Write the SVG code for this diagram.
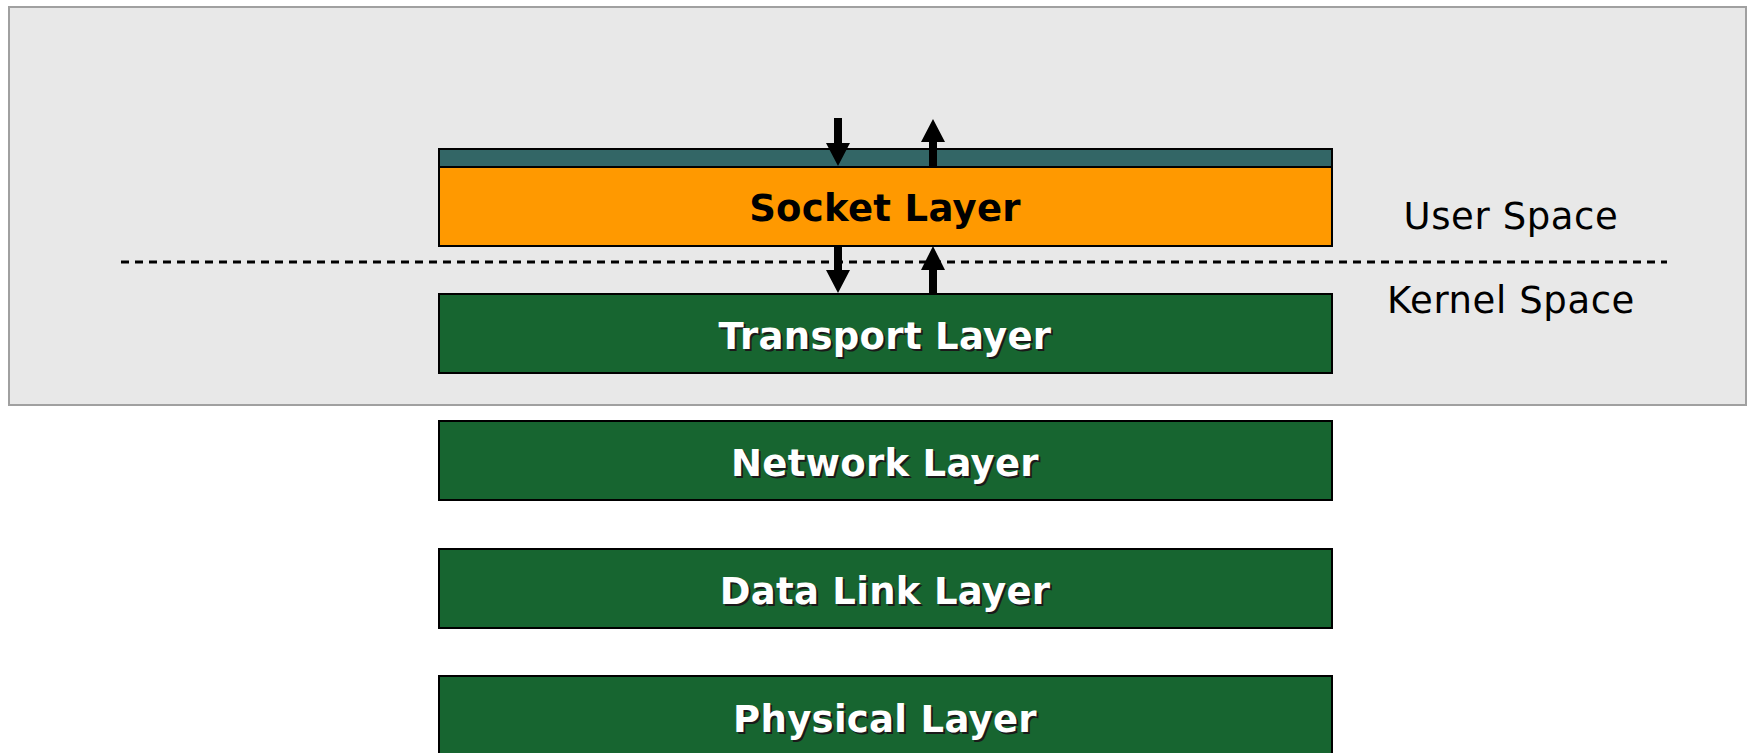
<svg xmlns="http://www.w3.org/2000/svg" width="1750" height="753" viewBox="0 0 1750 753">
<style>
.layer{fill:#176530;stroke:#000;stroke-width:2}
.lbl{font-family:"DejaVu Sans",Verdana,sans-serif;font-weight:bold;font-size:37px;letter-spacing:0.3px;text-anchor:middle}
.wt{fill:#fff}
.sh{fill:#1a1a1a}
.space{font-family:"DejaVu Sans",Verdana,sans-serif;font-size:37px;letter-spacing:0.6px;fill:#000;text-anchor:middle}
.arr{fill:#000}
</style>
<rect width="1750" height="753" fill="#fff"/>
<g id="space-box">
<rect x="9" y="7" width="1737" height="398" fill="#e8e8e8" stroke="#a0a0a0" stroke-width="2"/>
<line x1="121" y1="262" x2="1667" y2="262" stroke="#000" stroke-width="3" stroke-dasharray="8,6"/>
<text class="space" x="1511" y="229">User Space</text>
<text class="space" x="1511" y="313">Kernel Space</text>
</g>
<g id="socket">
<rect x="439" y="149" width="893" height="18" fill="#336666" stroke="#000" stroke-width="2"/>
<rect x="439" y="167" width="893" height="79" fill="#ff9900" stroke="#000" stroke-width="2"/>
<text class="lbl" x="885" y="221" fill="#000">Socket Layer</text>
</g>
<g id="transport">
<rect class="layer" x="439" y="294" width="893" height="79"/>
<text class="lbl sh" x="887" y="351">Transport Layer</text>
<text class="lbl wt" x="885" y="349">Transport Layer</text>
</g>
<g id="network">
<rect class="layer" x="439" y="421" width="893" height="79"/>
<text class="lbl sh" x="887" y="478">Network Layer</text>
<text class="lbl wt" x="885" y="476">Network Layer</text>
</g>
<g id="datalink">
<rect class="layer" x="439" y="549" width="893" height="79"/>
<text class="lbl sh" x="887" y="606">Data Link Layer</text>
<text class="lbl wt" x="885" y="604">Data Link Layer</text>
</g>
<g id="physical">
<rect class="layer" x="439" y="676" width="893" height="82"/>
<text class="lbl sh" x="887" y="734">Physical Layer</text>
<text class="lbl wt" x="885" y="732">Physical Layer</text>
</g>
<g id="connectors">
<polygon class="arr" points="834,118 842,118 842,143 850,143 838,166 826,143 834,143"/>
<polygon class="arr" points="933,119 945,142 937,142 937,167 929,167 929,142 921,142"/>
<polygon class="arr" points="834,246 842,246 842,270 850,270 838,293 826,270 834,270"/>
<polygon class="arr" points="933,246 945,270 937,270 937,294 929,294 929,270 921,270"/>
</g>
</svg>
